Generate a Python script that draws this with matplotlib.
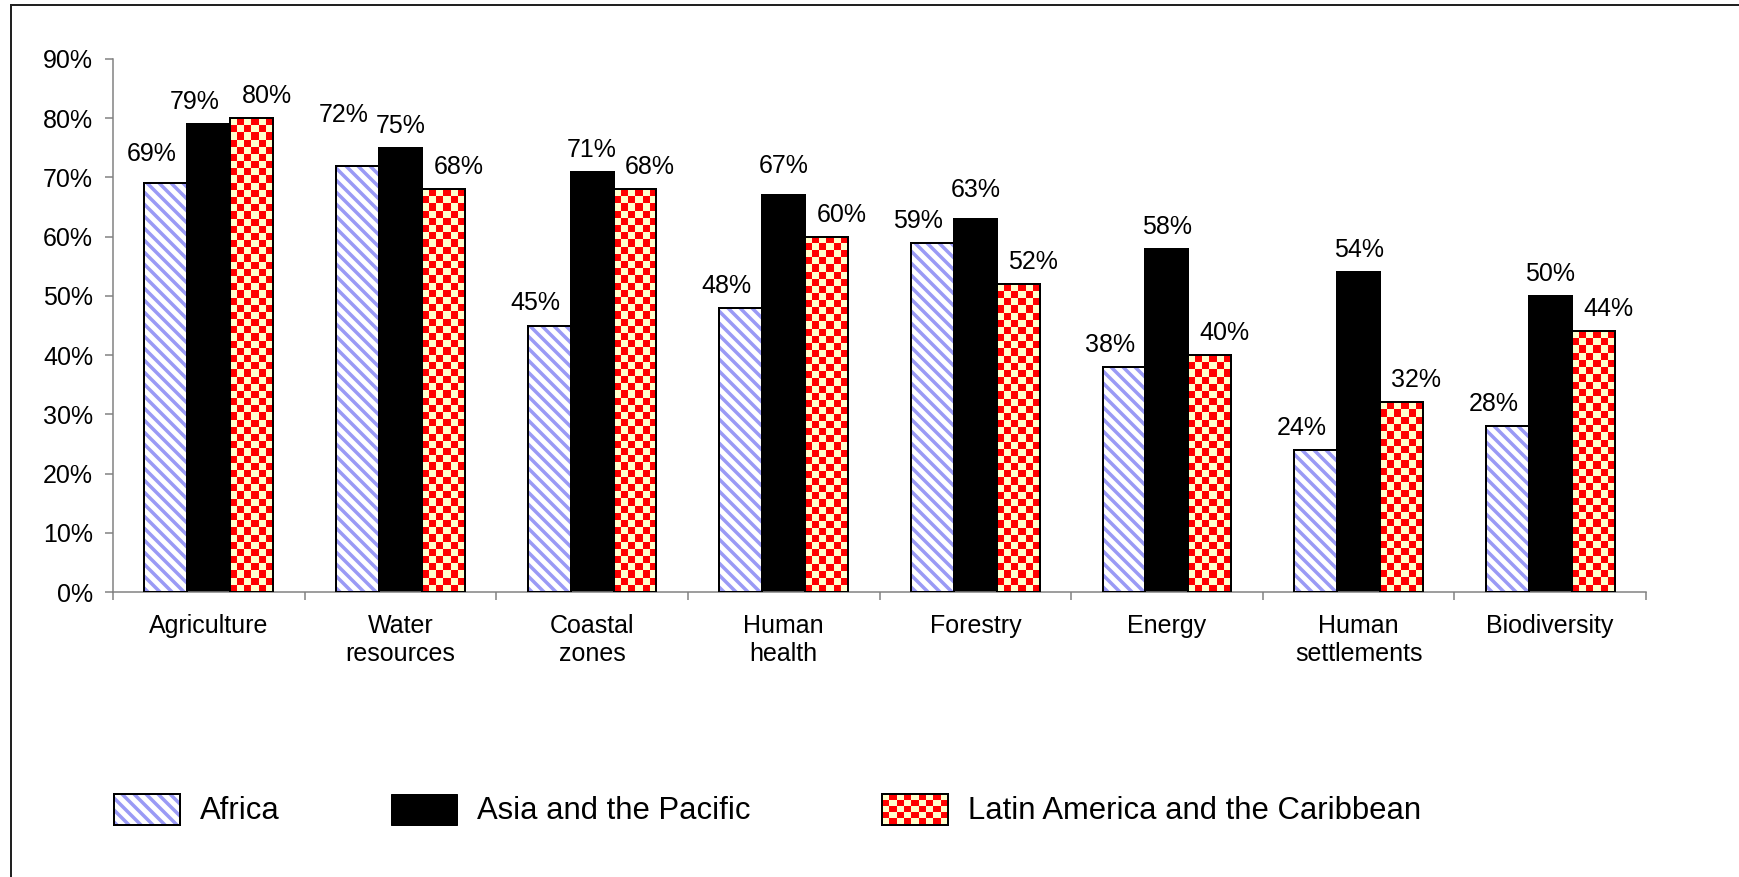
import numpy as np
import matplotlib
matplotlib.use("Agg")
import matplotlib.pyplot as plt
from matplotlib.patches import Patch, Rectangle
from matplotlib.colors import ListedColormap
from matplotlib.legend_handler import HandlerBase, HandlerTuple
from matplotlib.ticker import FuncFormatter

# --- Data ---
categories = ["Agriculture", "Water\nresources", "Coastal\nzones", "Human\nhealth",
              "Forestry", "Energy", "Human\nsettlements", "Biodiversity"]
africa = [69, 72, 45, 48, 59, 38, 24, 28]
asia = [79, 75, 71, 67, 63, 58, 54, 50]
latin = [80, 68, 68, 60, 52, 40, 32, 44]
series_names = ["Africa", "Asia and the Pacific", "Latin America and the Caribbean"]

# --- Style ---
W, H, DPI = 1739, 877, 72
FONT = "Liberation Sans"
BLUE = "#9a9af5"
RED = "#ff0000"
CREAM = "#ffffcc"
GREY = "#808080"
plt.rcParams["font.family"] = [FONT, "DejaVu Sans"]
plt.rcParams["hatch.linewidth"] = 3.5

# small manual nudges (px) for labels that Excel had moved
label_nudge = {(0, 1): (0, 29), (1, 0): (-14, 0), (0, 0): (0, 7),
               (1, 3): (0, 7), (1, 4): (0, 7)}

fig = plt.figure(figsize=(W / DPI, H / DPI), dpi=DPI)
ax = fig.add_axes([113 / W, 1 - 592 / H, (1646 - 113) / W, (592 - 59) / H])

x = np.arange(len(categories))
bw = 0.224

ax.set_xlim(-0.5, len(categories) - 0.5)
ax.set_ylim(0, 90)

# Africa: blue diagonal hatch, black outline
ax.bar(x - bw, africa, bw, color="white", edgecolor=BLUE, hatch="\\\\", linewidth=0, zorder=2)
ax.bar(x - bw, africa, bw, fill=False, edgecolor="black", linewidth=2, zorder=4)
# Asia: solid black
ax.bar(x, asia, bw, color="black", edgecolor="black", linewidth=2, zorder=2)
# Latin America: red/cream checkerboard
lat_bars = ax.bar(x + bw, latin, bw, color=CREAM, edgecolor="none", linewidth=0, zorder=2)
checker_cmap = ListedColormap([CREAM, RED])
for b in lat_bars:
    x0, h, w = b.get_x(), b.get_height(), b.get_width()
    p0, p1 = ax.transData.transform([(x0, 0), (x0 + w, h)])
    ncols = 6
    cell = abs(p1[0] - p0[0]) / ncols
    nrows = max(1, int(round(abs(p1[1] - p0[1]) / cell)))
    grid = (np.add.outer(np.arange(nrows), np.arange(ncols)) % 2).astype(float)
    im = ax.imshow(grid, extent=(x0, x0 + w, 0, h), cmap=checker_cmap, vmin=0, vmax=1,
                   interpolation="nearest", aspect="auto", origin="upper", zorder=3)
    im.set_clip_path(b)
ax.bar(x + bw, latin, bw, fill=False, edgecolor="black", linewidth=2, zorder=4)

ax.set_xlim(-0.5, len(categories) - 0.5)
ax.set_ylim(0, 90)

# value labels
for si, (vals, dx, off) in enumerate([(africa, -bw, -14), (asia, 0, 0), (latin, bw, 15)]):
    for ci, (xi, v) in enumerate(zip(x, vals)):
        ndx, ndy = label_nudge.get((si, ci), (0, 0))
        ax.annotate(f"{v}%", (xi + dx, v), xytext=(off + ndx, 15 + ndy),
                    textcoords="offset points", ha="center", va="baseline",
                    fontsize=25, zorder=5)

# axes styling
for s in ["top", "right"]:
    ax.spines[s].set_visible(False)
for s in ["left", "bottom"]:
    ax.spines[s].set_color(GREY)
    ax.spines[s].set_linewidth(1.5)

ax.set_yticks(np.arange(0, 91, 10))
ax.yaxis.set_major_formatter(FuncFormatter(lambda v, p: f"{int(v)}%"))
ax.tick_params(axis="y", direction="out", length=8, width=1.5, color=GREY, pad=12, labelsize=25)

ax.set_xticks(x)
ax.set_xticklabels(categories)
ax.set_xticks(np.arange(-0.5, len(categories), 1), minor=True)
ax.tick_params(axis="x", which="major", length=0, pad=22, labelsize=25)
ax.tick_params(axis="x", which="minor", direction="out", length=8, width=1.5, color=GREY)


# legend
class CheckerHandler(HandlerBase):
    def create_artists(self, legend, orig_handle, xdescent, ydescent, width, height, fontsize, trans):
        arts = []
        nx, ny = 9, 5
        cw, ch = width / nx, height / ny
        for i in range(nx):
            for j in range(ny):
                c = RED if (i + j) % 2 else CREAM
                arts.append(Rectangle((-xdescent + i * cw, -ydescent + j * ch), cw, ch,
                                      facecolor=c, edgecolor="none", transform=trans))
        arts.append(Rectangle((-xdescent, -ydescent), width, height, fill=False,
                              edgecolor="black", linewidth=2, transform=trans))
        return arts


h_africa = (Patch(facecolor="white", edgecolor=BLUE, hatch="\\\\", linewidth=0),
            Patch(fill=False, edgecolor="black", linewidth=2))
h_asia = Patch(facecolor="black", edgecolor="black", linewidth=1)
h_latin = Patch(facecolor=RED)

legend_items = [(h_africa, series_names[0], 114, {tuple: HandlerTuple()}),
                (h_asia, series_names[1], 391, None),
                (h_latin, series_names[2], 882, {Patch: CheckerHandler()})]
for handle, label, px, hmap in legend_items:
    leg = fig.legend([handle], [label], loc="center left", bbox_to_anchor=(px / W, 1 - 810 / H),
                     frameon=False, fontsize=31, handlelength=66 / 31, handleheight=36 / 31,
                     handletextpad=0.65, borderpad=0, borderaxespad=0, handler_map=hmap)

# figure border
fig.patches.append(Rectangle((11 / W, -0.05), 1.1, 1 - 5 / H + 0.05, fill=False,
                             edgecolor="#222222", linewidth=2, transform=fig.transFigure,
                             figure=fig))

fig.savefig("out.png", dpi=DPI)
